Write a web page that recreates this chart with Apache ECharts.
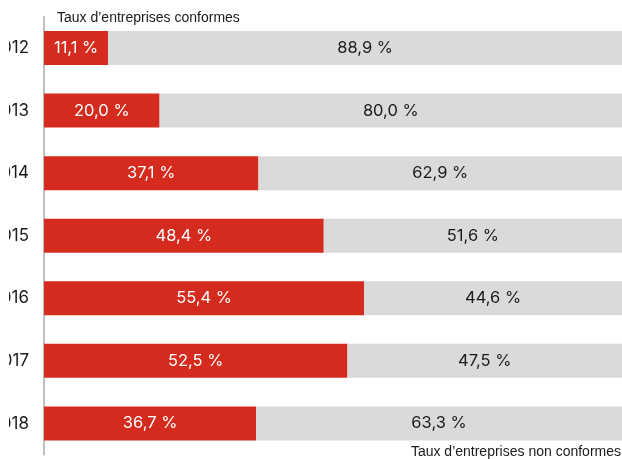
<!DOCTYPE html>
<html>
<head>
<meta charset="utf-8">
<script src="https://cdn.jsdelivr.net/npm/echarts@6/dist/echarts.min.js"></script>
<style>html,body{margin:0;padding:0;background:#fff}#c{width:622px;height:459px}</style>
</head>
<body>
<div id="c"></div>
<script>
var years = ['2012','2013','2014','2015','2016','2017','2018'];
var conformes = [11.1, 20.0, 37.1, 48.4, 55.4, 52.5, 36.7];
var nonConformes = [88.9, 80.0, 62.9, 51.6, 44.6, 47.5, 63.3];
var topLabel = "Taux d’entreprises conformes";
var bottomLabel = "Taux d’entreprises non conformes";

function fmt(v){ return v.toFixed(1).replace('.', ',') + ' %'; }

var FF = 'Liberation Sans, Arial, sans-serif';
var FV = 'Inter, Liberation Sans, sans-serif';
var chart = echarts.init(document.getElementById('c'));
chart.setOption({
  animation: false,
  textStyle: { fontFamily: FF },
  grid: { left: 44, right: 0, top: 16.7, bottom: 4.3, containLabel: false, outerBoundsMode: 'none' },
  xAxis: { type: 'value', min: 0, max: 100, show: false },
  yAxis: {
    type: 'category', data: years, inverse: true,
    axisLine: { show: true, lineStyle: { color: '#aaaaaa', width: 1.5 } },
    axisTick: { show: false },
    axisLabel: { color: '#1a1a1a', fontSize: 17, margin: 15, fontFamily: FV }
  },
  title: [
    { text: topLabel, left: 57, top: 11, padding: 0, textStyle: { fontSize: 14, fontWeight: 'normal', color: '#1a1a1a', fontFamily: FF } },
    { text: bottomLabel, right: 1, top: 445, padding: 0, textStyle: { fontSize: 14, fontWeight: 'normal', color: '#1a1a1a', fontFamily: FF } }
  ],
  graphic: [
    { type: 'rect', left: 0, top: 0, z: 100, shape: { width: 9, height: 459 }, style: { fill: '#ffffff' } }
  ],
  series: [
    {
      type: 'bar', stack: 'a', data: conformes, barWidth: 34,
      itemStyle: { color: '#d52b1e' },
      label: { show: true, position: 'inside', color: '#ffffff', fontSize: 16.5, fontFamily: FV, formatter: function(p){ return fmt(p.value); } }
    },
    {
      type: 'bar', stack: 'a', data: nonConformes, barWidth: 34,
      itemStyle: { color: '#d9dada' },
      label: { show: true, position: 'inside', color: '#1a1a1a', fontSize: 16.5, fontFamily: FV, formatter: function(p){ return fmt(p.value); } }
    }
  ]
});
</script>
</body>
</html>
